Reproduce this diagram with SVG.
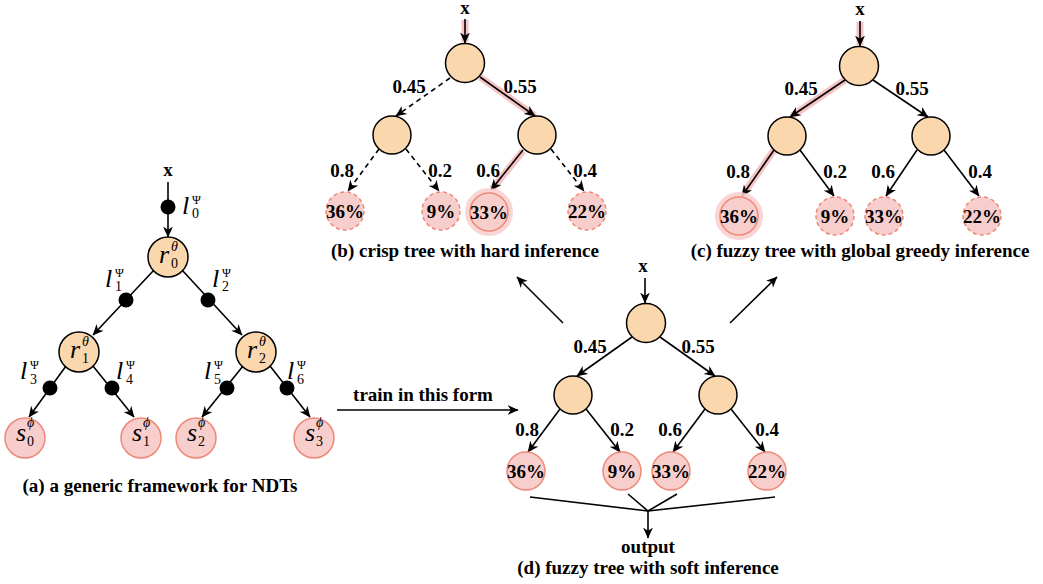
<svg xmlns="http://www.w3.org/2000/svg" width="1043" height="584" viewBox="0 0 1043 584">
<defs>
<marker id="ah" viewBox="0 0 10 10" refX="9.5" refY="5" markerWidth="11" markerHeight="11" orient="auto" markerUnits="userSpaceOnUse">
<path d="M0,0.5 L10,5 L0,9.5 L3,5 z" fill="#000" stroke="none"/>
</marker>
<style>
.n{fill:#FAD7AC;stroke:#000;stroke-width:1.5}
.lf{fill:#F8CECC;stroke:#EE8877;stroke-width:1.5}
.ld{fill:#F8CECC;stroke:#EE8877;stroke-width:1.5;stroke-dasharray:4 3}
.halo{fill:#F8CECC;opacity:0.85}
.e{stroke:#000;stroke-width:1.6;fill:none;marker-end:url(#ah)}
.p{stroke:#000;stroke-width:1.6;fill:none}
.d{stroke-dasharray:5 4}
.hl{stroke:#F5C3C3;stroke-width:7;fill:none}
.dot{fill:#000}
.t{font-family:"Liberation Serif",serif;font-weight:bold;font-size:19px;fill:#000;text-anchor:middle}
.m{font-family:"Liberation Serif",serif;font-style:italic;font-size:26px;fill:#000}
.s{font-family:"Liberation Serif",serif;font-size:14px;fill:#000}
.sp{font-family:"Liberation Serif",serif;font-size:12px;fill:#000}
.si{font-family:"Liberation Serif",serif;font-style:italic;font-size:14px;fill:#000}
</style>
</defs>
<rect width="1043" height="584" fill="#fff"/>

<g id="highlights">
<line class="hl" x1="465" y1="20" x2="465" y2="42"/>
<line class="hl" x1="480" y1="77" x2="535" y2="116"/>
<line class="hl" x1="523" y1="151" x2="492" y2="189"/>
<line class="hl" x1="860" y1="22" x2="860" y2="45"/>
<line class="hl" x1="845" y1="80" x2="792" y2="116"/>
<line class="hl" x1="774" y1="150" x2="744" y2="193"/>
</g>

<g id="connectors">
<line class="e" x1="168" y1="182" x2="168" y2="237"/>
<line class="e" x1="154" y1="270" x2="93" y2="335"/>
<line class="e" x1="182" y1="270" x2="242" y2="335"/>
<line class="e" x1="66" y1="366" x2="29" y2="417"/>
<line class="e" x1="93" y1="366" x2="134" y2="417"/>
<line class="e" x1="243" y1="366" x2="202" y2="417"/>
<line class="e" x1="270" y1="366" x2="310" y2="417"/>
<line class="e" x1="465" y1="19" x2="465" y2="43"/>
<line class="e d" x1="450" y1="78" x2="396" y2="116"/>
<line class="e" x1="480" y1="77" x2="535" y2="116"/>
<line class="e d" x1="379" y1="149" x2="348" y2="191"/>
<line class="e d" x1="406" y1="149" x2="439" y2="191"/>
<line class="e" x1="523" y1="150" x2="491" y2="190"/>
<line class="e d" x1="551" y1="149" x2="584" y2="191"/>
<line class="e" x1="860" y1="21" x2="860" y2="46"/>
<line class="e" x1="845" y1="80" x2="790" y2="117"/>
<line class="e" x1="873" y1="80" x2="928" y2="117"/>
<line class="e" x1="774" y1="150" x2="742" y2="196"/>
<line class="e" x1="800" y1="150" x2="834" y2="196"/>
<line class="e" x1="917" y1="150" x2="886" y2="196"/>
<line class="e" x1="944" y1="150" x2="979" y2="196"/>
<line class="e" x1="645" y1="278" x2="645" y2="303"/>
<line class="e" x1="632" y1="337" x2="577" y2="376"/>
<line class="e" x1="660" y1="337" x2="715" y2="376"/>
<line class="e" x1="560" y1="409" x2="528" y2="452"/>
<line class="e" x1="586" y1="409" x2="620" y2="452"/>
<line class="e" x1="705" y1="409" x2="673" y2="452"/>
<line class="e" x1="731" y1="409" x2="765" y2="452"/>
<line class="p" x1="530" y1="497" x2="648" y2="511"/>
<line class="p" x1="628" y1="494" x2="648" y2="511"/>
<line class="p" x1="677" y1="494" x2="648" y2="511"/>
<line class="p" x1="775" y1="497" x2="648" y2="511"/>
<line class="e" x1="648" y1="511" x2="648" y2="538"/>
<line class="e" x1="563" y1="323" x2="517" y2="277"/>
<line class="e" x1="730" y1="323" x2="777" y2="277"/>
<line class="e" x1="337" y1="410" x2="518" y2="410"/>
</g>

<g id="a-dots">
<circle class="dot" cx="168" cy="207" r="7.5"/>
<circle class="dot" cx="126" cy="300" r="7.5"/>
<circle class="dot" cx="208" cy="300" r="7.5"/>
<circle class="dot" cx="50" cy="388" r="7.5"/>
<circle class="dot" cx="112" cy="388" r="7.5"/>
<circle class="dot" cx="227" cy="388" r="7.5"/>
<circle class="dot" cx="287" cy="388" r="7.5"/>
</g>
<g id="a-labels">
<text class="t" x="168" y="176">x</text>
<text class="m" x="182" y="214">l</text><text class="sp" x="192" y="204">Ψ</text><text class="s" x="192" y="218">0</text>
<text class="m" x="105" y="287">l</text><text class="sp" x="115" y="277">Ψ</text><text class="s" x="115" y="291">1</text>
<text class="m" x="212" y="287">l</text><text class="sp" x="222" y="277">Ψ</text><text class="s" x="222" y="291">2</text>
<text class="m" x="20" y="379">l</text><text class="sp" x="30" y="369">Ψ</text><text class="s" x="30" y="384">3</text>
<text class="m" x="116" y="379">l</text><text class="sp" x="126" y="369">Ψ</text><text class="s" x="126" y="384">4</text>
<text class="m" x="204" y="379">l</text><text class="sp" x="214" y="369">Ψ</text><text class="s" x="214" y="384">5</text>
<text class="m" x="287" y="379">l</text><text class="sp" x="297" y="369">Ψ</text><text class="s" x="297" y="384">6</text>
</g>
<g id="a-r0"><circle class="n" cx="168" cy="257" r="20"/><text class="m" x="159" y="263">r</text><text class="si" x="171" y="251">θ</text><text class="s" x="171" y="268">0</text></g>
<g id="a-r1"><circle class="n" cx="79" cy="352" r="20"/><text class="m" x="70" y="358">r</text><text class="si" x="82" y="346">θ</text><text class="s" x="82" y="363">1</text></g>
<g id="a-r2"><circle class="n" cx="256" cy="352" r="20"/><text class="m" x="247" y="358">r</text><text class="si" x="259" y="346">θ</text><text class="s" x="259" y="363">2</text></g>
<g id="a-s0"><circle class="lf" cx="25" cy="438" r="20"/><text class="m" x="16" y="441">s</text><text class="si" x="27" y="427">ϕ</text><text class="s" x="27" y="446">0</text></g>
<g id="a-s1"><circle class="lf" cx="141" cy="438" r="20"/><text class="m" x="132" y="441">s</text><text class="si" x="143" y="427">ϕ</text><text class="s" x="143" y="446">1</text></g>
<g id="a-s2"><circle class="lf" cx="196" cy="438" r="20"/><text class="m" x="187" y="441">s</text><text class="si" x="198" y="427">ϕ</text><text class="s" x="198" y="446">2</text></g>
<g id="a-s3"><circle class="lf" cx="314" cy="438" r="20"/><text class="m" x="305" y="441">s</text><text class="si" x="316" y="427">ϕ</text><text class="s" x="316" y="446">3</text></g>
<text class="t" x="160" y="492">(a) a generic framework for NDTs</text>

<g id="b-labels">
<text class="t" x="465" y="14">x</text>
<text class="t" x="409" y="93">0.45</text>
<text class="t" x="520" y="93">0.55</text>
<text class="t" x="342" y="177">0.8</text>
<text class="t" x="440" y="177">0.2</text>
<text class="t" x="488" y="177">0.6</text>
<text class="t" x="585" y="177">0.4</text>
<text class="t" x="465" y="257">(b) crisp tree with hard inference</text>
</g>
<g id="b-root"><circle class="n" cx="465" cy="63" r="19.5"/></g>
<g id="b-left"><circle class="n" cx="392" cy="135" r="19"/></g>
<g id="b-right"><circle class="n" cx="537" cy="135" r="19"/></g>
<g id="b-leaf0"><circle class="ld" cx="345" cy="211" r="19"/><text class="t" x="345" y="218">36%</text></g>
<g id="b-leaf1"><circle class="ld" cx="441" cy="211" r="19"/><text class="t" x="441" y="218">9%</text></g>
<g id="b-leaf2"><circle class="halo" cx="489" cy="212" r="24"/><circle class="lf" cx="489" cy="212" r="19"/><text class="t" x="489" y="219">33%</text></g>
<g id="b-leaf3"><circle class="ld" cx="587" cy="211" r="19"/><text class="t" x="587" y="218">22%</text></g>

<g id="c-labels">
<text class="t" x="860" y="15">x</text>
<text class="t" x="801" y="95">0.45</text>
<text class="t" x="912" y="95">0.55</text>
<text class="t" x="738" y="178">0.8</text>
<text class="t" x="835" y="178">0.2</text>
<text class="t" x="883" y="178">0.6</text>
<text class="t" x="980" y="178">0.4</text>
<text class="t" x="860" y="257">(c) fuzzy tree with global greedy inference</text>
</g>
<g id="c-root"><circle class="n" cx="859" cy="66" r="19.5"/></g>
<g id="c-left"><circle class="n" cx="787" cy="136" r="19"/></g>
<g id="c-right"><circle class="n" cx="931" cy="136" r="19"/></g>
<g id="c-leaf0"><circle class="halo" cx="739" cy="216" r="24"/><circle class="lf" cx="739" cy="216" r="19"/><text class="t" x="739" y="223">36%</text></g>
<g id="c-leaf1"><circle class="ld" cx="835" cy="216" r="19"/><text class="t" x="835" y="223">9%</text></g>
<g id="c-leaf2"><circle class="ld" cx="884" cy="216" r="19"/><text class="t" x="884" y="223">33%</text></g>
<g id="c-leaf3"><circle class="ld" cx="982" cy="216" r="19"/><text class="t" x="982" y="223">22%</text></g>

<g id="d-labels">
<text class="t" x="643" y="272">x</text>
<text class="t" x="590" y="353">0.45</text>
<text class="t" x="698" y="353">0.55</text>
<text class="t" x="527" y="436">0.8</text>
<text class="t" x="622" y="436">0.2</text>
<text class="t" x="670" y="436">0.6</text>
<text class="t" x="767" y="436">0.4</text>
<text class="t" x="648" y="553">output</text>
<text class="t" x="648" y="574">(d) fuzzy tree with soft inference</text>
<text class="t" x="423" y="401">train in this form</text>
</g>
<g id="d-root"><circle class="n" cx="646" cy="323" r="19.5"/></g>
<g id="d-left"><circle class="n" cx="573" cy="395" r="19"/></g>
<g id="d-right"><circle class="n" cx="718" cy="395" r="19"/></g>
<g id="d-leaf0"><circle class="lf" cx="526" cy="471" r="19"/><text class="t" x="526" y="478">36%</text></g>
<g id="d-leaf1"><circle class="lf" cx="622" cy="471" r="19"/><text class="t" x="622" y="478">9%</text></g>
<g id="d-leaf2"><circle class="lf" cx="671" cy="471" r="19"/><text class="t" x="671" y="478">33%</text></g>
<g id="d-leaf3"><circle class="lf" cx="767" cy="471" r="19"/><text class="t" x="767" y="478">22%</text></g>
</svg>
